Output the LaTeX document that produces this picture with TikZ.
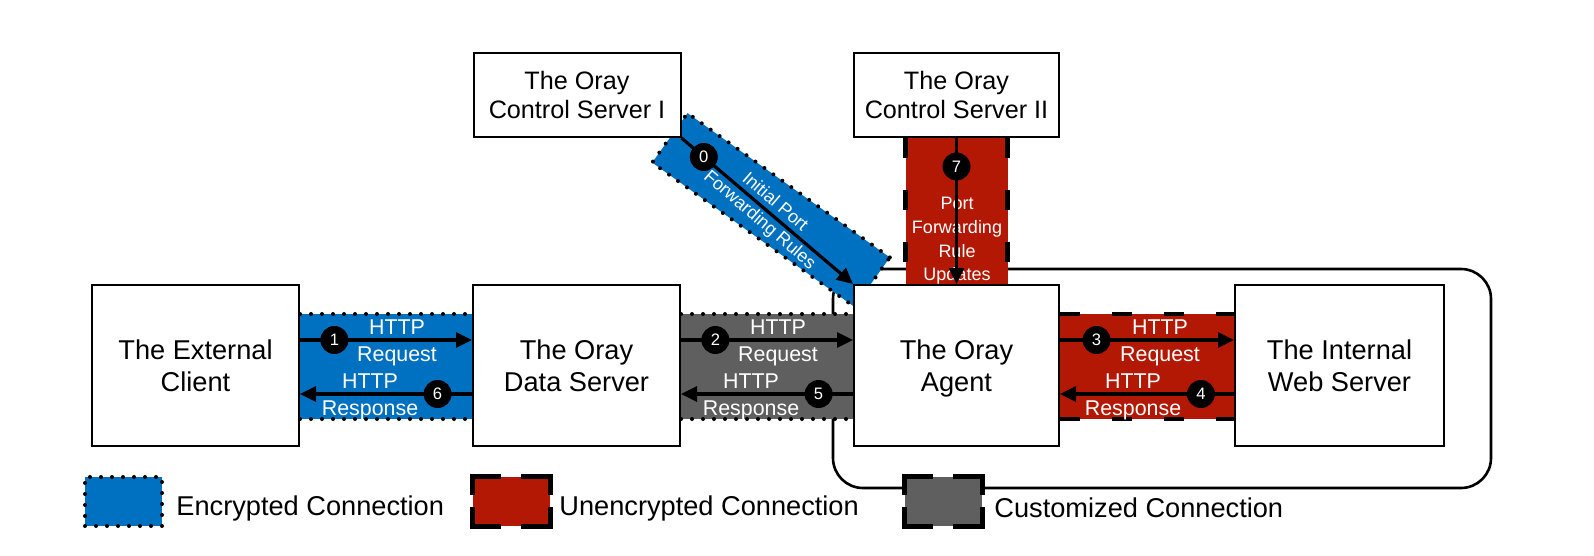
\documentclass[tikz,border=0pt]{standalone}
\usepackage{fontspec}
\setmainfont{Liberation Sans}
\usetikzlibrary{arrows.meta,backgrounds}
\definecolor{cblue}{RGB}{0,112,192}
\definecolor{cred}{RGB}{178,24,4}
\definecolor{cgray}{RGB}{95,95,95}
\tikzset{
  box/.style={draw, line width=1pt, fill=white, minimum width=103.5pt, minimum height=80.5pt,
    align=center, inner sep=0pt, font=\fontsize{13.6}{16}\selectfont},
  ctl/.style={box, minimum height=42pt, font=\fontsize{12.6}{14.5}\selectfont},
  num/.style={circle, fill=black, minimum size=14pt, inner sep=0pt, text=white,
    font=\fontsize{8.3}{9}\selectfont},
  arr/.style={line width=1.6pt, -{Triangle[length=8pt,width=7.5pt]}},
  lbl/.style={text=white, align=center, inner sep=0pt, font=\fontsize{10.7}{13.5}\selectfont},
  small/.style={text=white, align=center, inner sep=0pt, font=\fontsize{9}{11.8}\selectfont},
  dotb/.style={line width=2pt, line cap=round, dash pattern=on 0pt off 5.5pt},
  dashb/.style={line width=2.2pt, dash pattern=on 10pt off 16pt},
  zonebox/.style={draw, line width=1.3pt, rounded corners=15pt, minimum width=329pt,
    minimum height=109.5pt, inner sep=0pt},
  swatch/.style={minimum width=38.5pt, minimum height=24.5pt, inner sep=0pt},
  cornerW/.style={line width=2.2pt, line cap=rect, dash pattern=on 13pt off 12.5pt on 13pt off 0pt},
  cornerH/.style={line width=2.2pt, line cap=rect, dash pattern=on 8pt off 8.5pt on 8pt off 0pt},
  legtxt/.style={anchor=west, inner sep=0pt, font=\fontsize{13.6}{16}\selectfont}
}
\begin{document}
\begin{tikzpicture}[x=0.5pt,y=-0.5pt]
\useasboundingbox (0,0) rectangle (1594,556);

% main boxes
\node[box] (client) at (195.5,365.5) {The External\\Client};
\node[box] (data) at (576.5,365.5) {The Oray\\Data Server};
\node[box, minimum width=102.5pt] (agent) at (956.5,365.5) {The Oray\\\smash{Agent}};
\node[box, minimum width=104.5pt] (web) at (1339.5,365.5) {The Internal\\Web Server};
\node[ctl] (cs1) at (577,95) {The Oray\\Control Server I};
\node[ctl, minimum width=102.5pt] (cs2) at (956.5,95) {The Oray\\Control Server II};

\coordinate (ytop) at (0,314);
\coordinate (ybot) at (0,419);
\coordinate (yreq) at (0,340);
\coordinate (yres) at (0,394);

\begin{scope}[on background layer]
  \node[zonebox] (zone) at (1162,378.5) {};
  \node[fill=cblue, draw, dotb, rotate=-35.5, minimum width=124.25pt, minimum height=30.4pt,
        inner sep=0pt] (band0) at (771,210) {};
  % blue band
  \fill[cblue] (client.east |- ytop) rectangle (data.west |- ybot);
  \draw[dotb] (client.east |- ytop) -- (data.west |- ytop)
              (client.east |- ybot) -- (data.west |- ybot);
  % gray band
  \fill[cgray] (data.east |- ytop) rectangle (agent.west |- ybot);
  \draw[dotb] (data.east |- ytop) -- (agent.west |- ytop)
              (data.east |- ybot) -- (agent.west |- ybot);
  % red band
  \fill[cred] (agent.east |- ytop) rectangle (web.west |- ybot);
  \draw[dashb] (agent.east |- ytop) -- (web.west |- ytop)
               (agent.east |- ybot) -- (web.west |- ybot);
  % red vertical band
  \fill[cred] ([xshift=-25.5pt]cs2.south) rectangle ([xshift=25.5pt]agent.north);
  \draw[dashb] ([xshift=-25.5pt]cs2.south) -- ([xshift=-25.5pt]agent.north)
               ([xshift=25.5pt]cs2.south) -- ([xshift=25.5pt]agent.north);
\end{scope}

% labels
\node[lbl] (l1) at (397,343) {HTTP\\Request};
\node[lbl] (l6) at (370,397) {HTTP\\Response};
\node[lbl] (l2) at (778,343) {HTTP\\Request};
\node[lbl] (l5) at (751,397) {HTTP\\Response};
\node[lbl] (l3) at (1160,343) {HTTP\\Request};
\node[lbl] (l4) at (1133,397) {HTTP\\Response};
\node[small] (l7) at (957,241) {Port\\Forwarding\\Rule\\Updates};
\node[small, rotate=-40.6] (l0) at (767,211.5) {Initial Port\\Forwarding Rules};

% arrows
\draw[arr] (client.east |- yreq) -- node[num, pos=0.2] (n1) {1} (data.west |- yreq);
\draw[arr] (data.west |- yres) -- node[num, pos=0.2] (n6) {6} (client.east |- yres);
\draw[arr] (data.east |- yreq) -- node[num, pos=0.2] (n2) {2} (agent.west |- yreq);
\draw[arr] (agent.west |- yres) -- node[num, pos=0.2] (n5) {5} (data.east |- yres);
\draw[arr] (agent.east |- yreq) -- node[num, pos=0.21] (n3) {3} (web.west |- yreq);
\draw[arr] (web.west |- yres) -- node[num, pos=0.19] (n4) {4} (agent.east |- yres);
\draw[arr] (cs2.south) -- node[num, pos=0.195] (n7) {7} (agent.north);
\draw[arr] (cs1.south east) -- node[num, pos=0.13] (n0) {0} (agent.north west);

% legend
\node[swatch, fill=cblue, draw, dotb] (lg1) at (123.5,501.5) {};
\node[legtxt] (lt1) at (176,508) {Encrypted Connection};
\node[swatch, fill=cred] (lg2) at (511.5,501.5) {};
\draw[cornerW] (lg2.north west) -- (lg2.north east) (lg2.south west) -- (lg2.south east);
\draw[cornerH] (lg2.north west) -- (lg2.south west) (lg2.north east) -- (lg2.south east);
\node[legtxt] (lt2) at (559,508) {Unencrypted Connection};
\node[swatch, fill=cgray] (lg3) at (943.5,501.5) {};
\draw[cornerW] (lg3.north west) -- (lg3.north east) (lg3.south west) -- (lg3.south east);
\draw[cornerH] (lg3.north west) -- (lg3.south west) (lg3.north east) -- (lg3.south east);
\node[legtxt] (lt3) at (994,508) {Customized Connection};
\end{tikzpicture}
\end{document}
